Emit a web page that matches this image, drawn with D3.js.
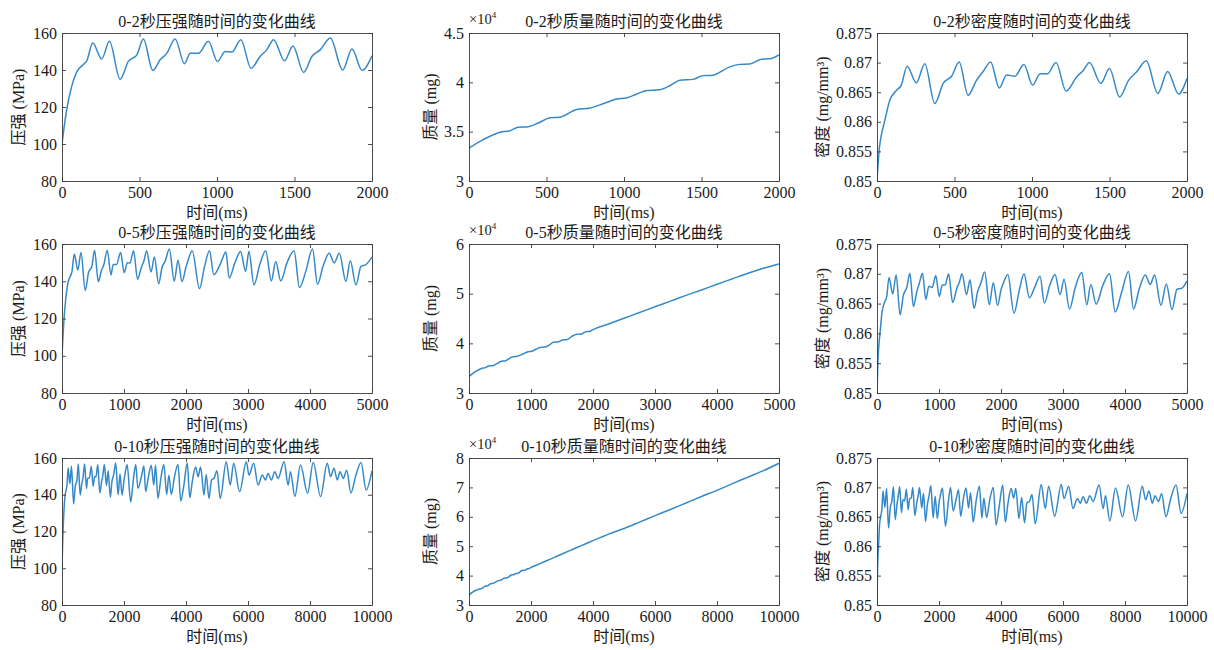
<!DOCTYPE html>
<html>
<head>
<meta charset="utf-8">
<script src="https://cdn.jsdelivr.net/npm/d3@7"></script>
<style>
  html, body { margin: 0; padding: 0; background: #ffffff; }
  svg { display: block; }
  text { font-family: "Liberation Serif", "Times New Roman", "Noto Sans CJK SC", serif; fill: #1a1a1a; }
</style>
</head>
<body>
<svg id="chart" width="1214" height="650"></svg>
<script>
// Simulation run: pressure, accumulated mass and density over 10 s.
const pressureT = [0, 15, 30, 62, 95, 138, 160, 198, 256, 306, 375, 428, 482, 525, 586, 633, 676, 730, 790, 827,
  880, 945, 1003, 1053, 1096, 1154, 1219, 1279, 1322, 1365, 1436, 1490, 1559, 1613, 1667, 1731, 1811, 1871, 1936, 2000,
  2040, 2100, 2217, 2300, 2379, 2449, 2557, 2643, 2697, 2790, 2880, 2961, 3015, 3096, 3190, 3285, 3377, 3447, 3528, 3630,
  3744, 3830, 3932, 4040, 4121, 4210, 4310, 4391, 4472, 4580, 4650, 4741, 4822, 4903, 5000,
  5104, 5299, 5428, 5536, 5730, 5946, 6032, 6183, 6324, 6464, 6560, 6647, 6755, 6863, 6971, 7165, 7295, 7370, 7511,
  7694, 7921, 8104, 8341, 8557, 8665, 8773, 8881, 8967, 9075, 9183, 9320, 9470, 9647, 9809, 10000];
const pressureMPa = [100, 110, 118.5, 131, 139, 143, 145, 154.6, 146, 155.5, 135, 144.7, 148, 156.7, 139.8, 145.5, 149, 156.7, 143.4, 149,
  149, 155.5, 144.6, 150, 149.7, 156.4, 141, 147.4, 151, 156.4, 145, 153, 138.7, 147.4, 151, 157.3, 140, 151.3, 139.8, 147.7,
  152, 156.4, 136, 148, 156.4, 143.5, 149.5, 155.7, 141.7, 150, 156, 145.3, 156, 138, 149, 156.4, 140.2, 150.6, 140.2, 150,
  156.4, 136.6, 145.3, 157.3, 138.4, 148, 155.1, 149.8, 155.1, 139.9, 151, 138, 148, 149, 153,
  138, 158, 145.3, 157.1, 141.7, 158, 150.7, 157.1, 145.3, 150.7, 148, 151.6, 148, 152.5, 148.9, 158, 145.3, 152.5, 139,
  156.2, 140.8, 157.6, 139, 157.1, 149.8, 154.4, 148, 152.5, 148.9, 153.4, 141, 150, 157.6, 142.6, 153];

const densityT = [0, 15, 30, 50, 82, 125, 157, 194, 254, 308, 373, 427, 481, 530, 588, 642, 685, 733, 789, 836,
  890, 948, 1004, 1052, 1099, 1155, 1220, 1289, 1332, 1371, 1444, 1500, 1565, 1623, 1677, 1737, 1812, 1875, 1946, 2000,
  2040, 2110, 2209, 2300, 2371, 2457, 2549, 2630, 2699, 2790, 2872, 2953, 3017, 3104, 3200, 3303, 3384, 3448, 3535, 3640,
  3750, 3842, 3940, 4057, 4138, 4230, 4327, 4407, 4477, 4580, 4666, 4758, 4838, 4919, 5000,
  5104, 5299, 5428, 5536, 5730, 5946, 6032, 6183, 6324, 6464, 6560, 6647, 6755, 6863, 6971, 7165, 7295, 7370, 7511,
  7694, 7921, 8104, 8341, 8557, 8665, 8773, 8881, 8967, 9075, 9183, 9320, 9470, 9647, 9809, 10000];
const densityVal = [0.8500, 0.8555, 0.8580, 0.8602, 0.8636, 0.8653, 0.8662, 0.8694, 0.8666, 0.8698, 0.8631, 0.8665, 0.8677, 0.8701, 0.8645, 0.8670, 0.8685, 0.8701, 0.8657, 0.8679,
  0.8677, 0.8697, 0.8662, 0.8681, 0.8681, 0.8700, 0.8652, 0.8676, 0.8687, 0.8700, 0.8665, 0.8690, 0.8642, 0.8670, 0.8685, 0.8703, 0.8648, 0.8685, 0.8647, 0.8673,
  0.8685, 0.8699, 0.8634, 0.8675, 0.8700, 0.8660, 0.8679, 0.8696, 0.8651, 0.8682, 0.8699, 0.8665, 0.8691, 0.8641, 0.8678, 0.8702, 0.8648, 0.8682, 0.8649, 0.8680,
  0.8700, 0.8636, 0.8667, 0.8704, 0.8641, 0.8675, 0.8698, 0.8682, 0.8698, 0.8647, 0.8683, 0.8640, 0.8674, 0.8676, 0.8688,
  0.8638, 0.8705, 0.8664, 0.8702, 0.8651, 0.8705, 0.8681, 0.8702, 0.8664, 0.8681, 0.8673, 0.8684, 0.8673, 0.8686, 0.8676, 0.8704, 0.8664, 0.8686, 0.8643,
  0.8699, 0.8650, 0.8704, 0.8643, 0.8702, 0.8679, 0.8694, 0.8673, 0.8686, 0.8676, 0.8689, 0.8650, 0.8680, 0.8704, 0.8656, 0.8690];

const massT = [0, 92, 200, 264, 318, 382, 450, 522, 583, 694, 780, 870, 952, 1016, 1080, 1145, 1231, 1300, 1360, 1446,
  1510, 1574, 1682, 1746, 1811, 1886, 1940, 2000,
  2250, 2500, 2750, 3000, 3250, 3500, 3750, 4000, 4250, 4500, 4750, 5000,
  5500, 6000, 6500, 7000, 7500, 8000, 8500, 9000, 9500, 10000];
const massMg = [33330, 34190, 34940, 35100, 35450, 35500, 35900, 36400, 36460, 37250, 37400, 37850, 38300, 38420, 38800, 39170, 39250, 39700, 40200, 40300,
  40680, 40730, 41570, 41820, 41860, 42340, 42380, 42770,
  43900, 45050, 46200, 47350, 48500, 49650, 50750, 51900, 53000, 54100, 55100, 56000,
  58200, 60400, 62500, 64700, 66900, 69000, 71300, 73500, 75700, 78200];

// Panel grid: rows are time windows, columns are quantities.
const windowMs = [2000, 5000, 10000];
const windowLabels = ["0-2秒", "0-5秒", "0-10秒"];
const xTickValues = [
  [0, 500, 1000, 1500, 2000],
  [0, 1000, 2000, 3000, 4000, 5000],
  [0, 2000, 4000, 6000, 8000, 10000]
];
const quantityNames = ["压强", "质量", "密度"];
const yLabels = ["压强 (MPa)", "质量 (mg)", "密度 (mg/mm³)"];
const pressureTicks = [80, 100, 120, 140, 160];
const massTicks = [
  [30000, 35000, 40000, 45000],
  [30000, 40000, 50000, 60000],
  [30000, 40000, 50000, 60000, 70000, 80000]
];
const densityTicks = [0.85, 0.855, 0.86, 0.865, 0.87, 0.875];

const colLeft = [62, 469, 877], colRight = [372, 779, 1187];
const rowTop = [33, 244, 458], rowBottom = [181, 393, 605];
const yLabelX = [18, 430, 822];
const lineColor = "#3589c8";
const axisColor = "#3a3a3a";

const svg = d3.select("#chart");

function series(q) {
  if (q === 0) return pressureT.map((t, i) => [t, pressureMPa[i]]);
  if (q === 1) return massT.map((t, i) => [t, massMg[i]]);
  return densityT.map((t, i) => [t, densityVal[i]]);
}

function yConfig(q, r) {
  if (q === 0) return { domain: [80, 160], ticks: pressureTicks, fmt: d => String(d) };
  if (q === 1) {
    const tk = massTicks[r];
    return { domain: [tk[0], tk[tk.length - 1]], ticks: tk, fmt: d => String(+(d / 1e4).toFixed(2)) };
  }
  return { domain: [0.85, 0.875], ticks: densityTicks, fmt: d => String(+d.toFixed(3)) };
}

function styleAxis(g) {
  g.selectAll("path.domain").attr("stroke", axisColor).attr("stroke-width", 0.9);
  g.selectAll(".tick line").attr("stroke", axisColor).attr("stroke-width", 0.9);
  g.selectAll(".tick text").attr("font-size", 16).attr("fill", "#1a1a1a")
    .attr("font-family", '"Liberation Serif", "Times New Roman", serif');
}

for (let r = 0; r < 3; r++) {
  for (let q = 0; q < 3; q++) {
    const L = colLeft[q], R = colRight[q], T = rowTop[r], B = rowBottom[r];
    const x = d3.scaleLinear().domain([0, windowMs[r]]).range([L, R]);
    const yc = yConfig(q, r);
    const y = d3.scaleLinear().domain(yc.domain).range([B, T]);
    const panel = svg.append("g");

    const clipId = `clip-${r}-${q}`;
    panel.append("clipPath").attr("id", clipId)
      .append("rect").attr("x", L).attr("y", T - 1).attr("width", R - L).attr("height", B - T + 2);

    const pts = series(q).filter(p => p[0] <= windowMs[r]);
    const line = d3.line().x(p => x(p[0])).y(p => y(p[1])).curve(d3.curveMonotoneX);
    panel.append("path")
      .datum(pts)
      .attr("clip-path", `url(#${clipId})`)
      .attr("fill", "none")
      .attr("stroke", lineColor)
      .attr("stroke-width", 1.5)
      .attr("stroke-linejoin", "round")
      .attr("d", line);

    // Boxed axes with inward ticks on all four sides
    panel.append("g").attr("transform", `translate(0,${B})`)
      .call(d3.axisBottom(x).tickValues(xTickValues[r]).tickSizeInner(-4).tickSizeOuter(0).tickPadding(5.5).tickFormat(d3.format("d")))
      .call(styleAxis);
    panel.append("g").attr("transform", `translate(0,${T})`)
      .call(d3.axisTop(x).tickValues(xTickValues[r]).tickSizeInner(-4).tickSizeOuter(0).tickFormat(""))
      .call(styleAxis);
    panel.append("g").attr("transform", `translate(${L},0)`)
      .call(d3.axisLeft(y).tickValues(yc.ticks).tickSizeInner(-4).tickSizeOuter(0).tickPadding(5).tickFormat(yc.fmt))
      .call(styleAxis);
    panel.append("g").attr("transform", `translate(${R},0)`)
      .call(d3.axisRight(y).tickValues(yc.ticks).tickSizeInner(-4).tickSizeOuter(0).tickFormat(""))
      .call(styleAxis);

    // Title
    panel.append("text")
      .attr("x", (L + R) / 2).attr("y", T - 6)
      .attr("text-anchor", "middle").attr("font-size", 16)
      .text(`${windowLabels[r]}${quantityNames[q]}随时间的变化曲线`);

    // X label
    panel.append("text")
      .attr("x", (L + R) / 2).attr("y", B + 37)
      .attr("text-anchor", "middle").attr("font-size", 16)
      .text("时间(ms)");

    // Y label
    panel.append("text")
      .attr("transform", `translate(${yLabelX[q]},${(T + B) / 2}) rotate(-90)`)
      .attr("text-anchor", "middle").attr("dominant-baseline", "central").attr("font-size", 16)
      .text(yLabels[q]);

    // Exponent marker for the mass axis
    if (q === 1) {
      const ex = panel.append("text").attr("x", L).attr("y", T - 9).attr("font-size", 14.5);
      ex.append("tspan").text("×10");
      ex.append("tspan").attr("font-size", 9).attr("dy", -6).text("4");
    }
  }
}
</script>
</body>
</html>
